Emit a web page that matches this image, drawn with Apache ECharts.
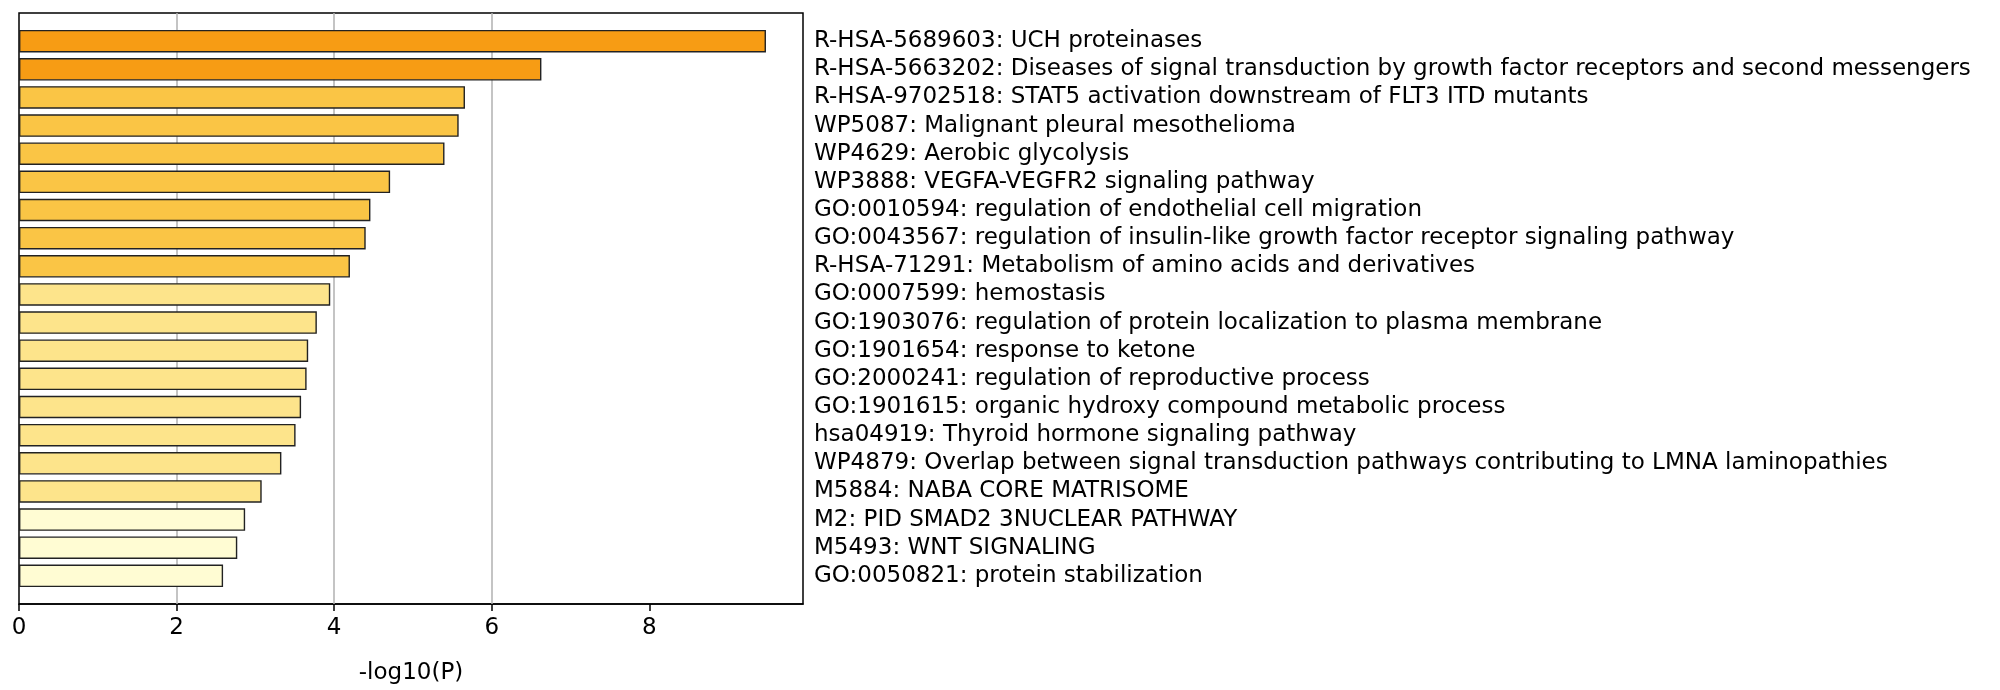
<!DOCTYPE html>
<html>
<head>
<meta charset="utf-8">
<script src="https://cdn.jsdelivr.net/npm/echarts@6/dist/echarts.min.js"></script>
<style>
  html, body { margin: 0; padding: 0; background: #fff; }
  #chart { width: 2000px; height: 690px; }
</style>
</head>
<body>
<div id="chart"></div>
<script>
// enriched terms, top to bottom
var terms = [
  "R-HSA-5689603: UCH proteinases",
  "R-HSA-5663202: Diseases of signal transduction by growth factor receptors and second messengers",
  "R-HSA-9702518: STAT5 activation downstream of FLT3 ITD mutants",
  "WP5087: Malignant pleural mesothelioma",
  "WP4629: Aerobic glycolysis",
  "WP3888: VEGFA-VEGFR2 signaling pathway",
  "GO:0010594: regulation of endothelial cell migration",
  "GO:0043567: regulation of insulin-like growth factor receptor signaling pathway",
  "R-HSA-71291: Metabolism of amino acids and derivatives",
  "GO:0007599: hemostasis",
  "GO:1903076: regulation of protein localization to plasma membrane",
  "GO:1901654: response to ketone",
  "GO:2000241: regulation of reproductive process",
  "GO:1901615: organic hydroxy compound metabolic process",
  "hsa04919: Thyroid hormone signaling pathway",
  "WP4879: Overlap between signal transduction pathways contributing to LMNA laminopathies",
  "M5884: NABA CORE MATRISOME",
  "M2: PID SMAD2 3NUCLEAR PATHWAY",
  "M5493: WNT SIGNALING",
  "GO:0050821: protein stabilization"
];

// -log10(P)
var logP = [9.48, 6.63, 5.66, 5.58, 5.40, 4.71, 4.46, 4.40, 4.20, 3.95,
            3.78, 3.67, 3.65, 3.58, 3.51, 3.33, 3.08, 2.87, 2.77, 2.59];

var xTicks = [0, 2, 4, 6, 8];
var xGrid = [2, 4, 6];
var xMax = 9.95;

// p-value bins -> colour
function binColor(v) {
  if (v > 6) return "#F79C14";
  if (v > 4) return "#FAC545";
  if (v > 3) return "#FDE48B";
  return "#FFFCD3";
}

// half a band of empty space above and below the bars
var yCats = [""].concat(terms, [""]);
var barData = ["-"].concat(logP.map(function (v) {
  return { value: v, itemStyle: { color: binColor(v) } };
}), ["-"]);

var chart = echarts.init(document.getElementById("chart"));
var font = "DejaVu Sans";

chart.setOption({
  animation: false,
  textStyle: { fontFamily: font },
  grid: {
    left: 19, right: 1197, top: 13, bottom: 81,
    show: true, borderColor: "#000", borderWidth: 1.5,
    containLabel: false
  },
  xAxis: {
    type: "value",
    min: 0,
    max: xMax,
    interval: 2,
    name: "-log10(P)",
    nameLocation: "middle",
    nameGap: 58,
    nameTextStyle: { color: "#000", fontSize: 23, fontFamily: font },
    axisLine: { show: true, lineStyle: { color: "#000", width: 1.5 } },
    axisTick: { show: true, length: 7, customValues: xTicks, lineStyle: { color: "#000", width: 1.5 } },
    axisLabel: { customValues: xTicks, color: "#000", fontSize: 23, margin: 13, fontFamily: font },
    splitLine: { show: false }
  },
  yAxis: {
    type: "category",
    data: yCats,
    inverse: true,
    position: "right",
    boundaryGap: false,
    axisLine: { show: false },
    axisTick: { show: false },
    axisLabel: { interval: 0, color: "#000", fontSize: 23, margin: 11, fontFamily: font },
    splitLine: { show: false }
  },
  series: [{
    type: "bar",
    data: barData,
    barWidth: "80%",
    z: 3,
    itemStyle: { borderColor: "#222", borderWidth: 1.4 },
    markLine: {
      silent: true,
      symbol: "none",
      z: 1,
      label: { show: false },
      lineStyle: { color: "#b0b0b0", type: "solid", width: 1.5 },
      data: xGrid.map(function (x) { return { xAxis: x }; })
    }
  }]
});
</script>
</body>
</html>
